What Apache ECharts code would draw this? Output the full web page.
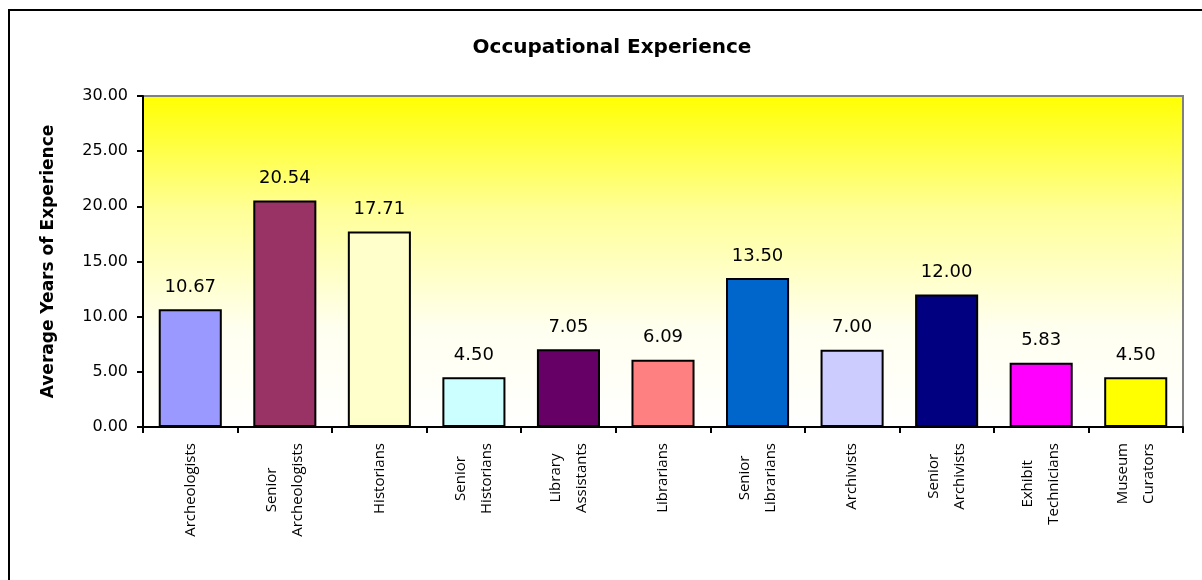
<!DOCTYPE html>
<html>
<head>
<meta charset="utf-8">
<script src="https://cdn.jsdelivr.net/npm/echarts@6/dist/echarts.min.js"></script>
<style>
html,body{margin:0;padding:0;background:#fff;}
#chart{width:1202px;height:580px;}
</style>
</head>
<body>
<div id="chart"></div>
<script>
const titleText = 'Occupational Experience';
const yAxisTitle = 'Average Years of Experience';
const categories = [
  'Archeologists',
  'Senior\nArcheologists',
  'Historians',
  'Senior\nHistorians',
  'Library\nAssistants',
  'Librarians',
  'Senior\nLibrarians',
  'Archivists',
  'Senior\nArchivists',
  'Exhibit\nTechnicians',
  'Museum\nCurators'
];
const values = [10.67, 20.54, 17.71, 4.50, 7.05, 6.09, 13.50, 7.00, 12.00, 5.83, 4.50];
const barColors = ['#9999ff', '#993366', '#ffffcc', '#ccffff', '#660066', '#ff8080', '#0066cc', '#ccccff', '#000080', '#ff00ff', '#ffff00'];
const yMin = 0, yMax = 30, yStep = 5;

const chart = echarts.init(document.getElementById('chart'), null, {renderer: 'canvas'});
const option = {
  animation: false,
  backgroundColor: '#ffffff',
  graphic: [{
    type: 'rect',
    shape: {x: 9, y: 10, width: 1400, height: 800},
    style: {fill: 'none', stroke: '#000', lineWidth: 2},
    silent: true,
    z: -1
  }],
  title: {
    text: titleText,
    left: 607,
    textAlign: 'center',
    top: 33,
    textStyle: {fontFamily: 'DejaVu Sans', fontWeight: 'bold', fontSize: 20, color: '#000'}
  },
  grid: {
    left: 143, right: 19, top: 96, bottom: 153,
    show: true,
    borderColor: '#808080',
    borderWidth: 2,
    backgroundColor: new echarts.graphic.LinearGradient(0, 0, 0, 1, [
      {offset: 0, color: '#ffff00'},
      {offset: 0.35, color: '#ffff99'},
      {offset: 0.7, color: '#fffff0'},
      {offset: 1, color: '#ffffff'}
    ])
  },
  xAxis: {
    type: 'category',
    data: categories,
    axisLine: {lineStyle: {color: '#000', width: 2}},
    axisTick: {show: true, length: 6, lineStyle: {color: '#000', width: 2}},
    axisLabel: {
      rotate: 90,
      margin: 16,
      interval: 0,
      color: '#000',
      fontFamily: 'Open Sans',
      fontSize: 15,
      formatter: function (v) {
        return v.split('\n').map(function (s) { return '{c|' + s + '}'; }).join('\n');
      },
      rich: {
        c: {align: 'center', fontFamily: 'Open Sans', fontSize: 15, lineHeight: 26, color: '#000'}
      }
    }
  },
  yAxis: {
    type: 'value',
    min: yMin, max: yMax, interval: yStep,
    name: yAxisTitle,
    nameLocation: 'middle',
    nameGap: 86,
    nameTextStyle: {fontFamily: 'DejaVu Sans', fontWeight: 'bold', fontSize: 17, color: '#000'},
    axisLine: {show: true, lineStyle: {color: '#000', width: 2}},
    axisTick: {show: true, length: 6, lineStyle: {color: '#000', width: 2}},
    splitLine: {show: false},
    axisLabel: {
      margin: 15,
      color: '#000',
      fontFamily: 'DejaVu Sans',
      fontSize: 16,
      formatter: function (v) { return v.toFixed(2); }
    }
  },
  series: [{
    type: 'bar',
    data: values.map(function (v, i) {
      return {value: v, itemStyle: {color: barColors[i]}};
    }),
    barCategoryGap: '33.3%',
    itemStyle: {borderColor: '#000', borderWidth: 2},
    label: {
      show: true,
      position: 'top',
      distance: 13,
      color: '#000',
      fontFamily: 'DejaVu Sans',
      fontSize: 18,
      formatter: function (p) { return p.value.toFixed(2); }
    }
  }]
};
chart.setOption(option);
</script>
</body>
</html>
